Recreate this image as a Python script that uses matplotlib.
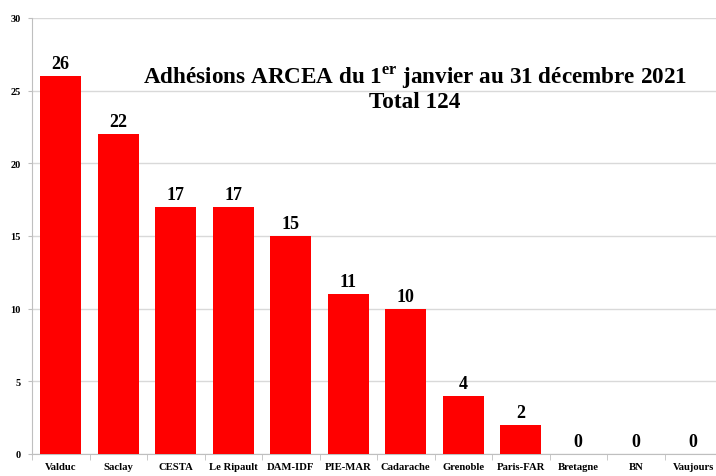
import matplotlib
matplotlib.use("Agg")
import matplotlib.pyplot as plt
import numpy as np

categories = ["Valduc", "Saclay", "CESTA", "Le Ripault", "DAM-IDF", "PIE-MAR",
              "Cadarache", "Grenoble", "Paris-FAR", "Bretagne", "BN", "Vaujours"]
values = [26, 22, 17, 17, 15, 11, 10, 4, 2, 0, 0, 0]
yticks = [0, 5, 10, 15, 20, 25, 30]

plt.rcParams['font.family'] = ['Liberation Serif', 'DejaVu Serif']
plt.rcParams['mathtext.fontset'] = 'custom'
plt.rcParams['mathtext.rm'] = 'Liberation Serif:bold'

fig = plt.figure(figsize=(7.16, 4.77), dpi=100)
ax = fig.add_axes([32/716, 22/477, 690/716, 436/477])

x = np.arange(len(categories))
ax.bar(x, values, width=0.72, color='#ff0000', zorder=3)
for xi, v in zip(x, values):
    ax.annotate(str(v), (xi, v), xytext=(0, 3), textcoords='offset points',
                ha='center', va='bottom', fontsize=13, fontweight='bold')

ax.set_xlim(-0.5, len(categories) - 0.5)
ax.set_ylim(0, 30)
ax.set_yticks(yticks)
ax.set_yticklabels([str(t) for t in yticks], fontsize=7.5, fontweight='bold')
ax.set_xticks(x)
ax.set_xticklabels(categories, fontsize=7.7, fontweight='bold')
ax.tick_params(axis='x', length=0, pad=6)
ax.tick_params(axis='y', length=3, color='#bfbfbf', pad=5)
ax.set_xticks(np.arange(-0.5, len(categories), 1), minor=True)
ax.tick_params(axis='x', which='minor', length=4, color='#bfbfbf')
ax.yaxis.grid(True, color='#d9d9d9', linewidth=1, zorder=0)
for s in ['top', 'right']:
    ax.spines[s].set_visible(False)
for s in ['left', 'bottom']:
    ax.spines[s].set_color('#bfbfbf')

fig.text(415/716, 1 - 78/477, r'Adhésions ARCEA du 1$^{\mathrm{er}}$ janvier au 31 décembre 2021',
         ha='center', va='center', fontsize=16.7, fontweight='bold')
fig.text(415/716, 1 - 103/477, 'Total 124', ha='center', va='center',
         fontsize=16.7, fontweight='bold')

fig.savefig('out.png', dpi=100)
